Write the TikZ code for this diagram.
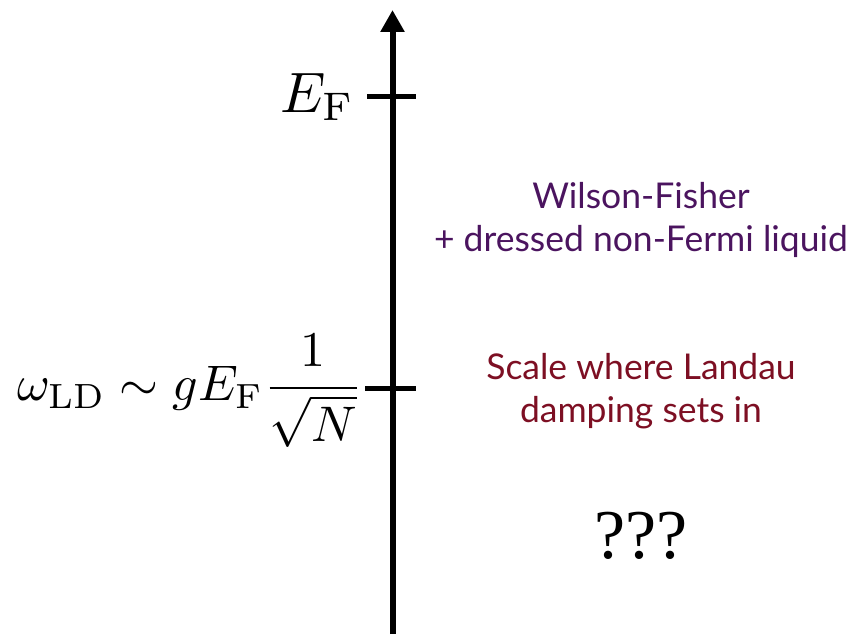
\documentclass[tikz,border=0pt]{standalone}
\usepackage{fontspec}
\setsansfont{Lato}
\newfontfamily\qfont{Liberation Serif}
\usetikzlibrary{arrows.meta}
\definecolor{wfpurple}{RGB}{75,20,95}
\definecolor{ldred}{RGB}{125,15,35}
\tikzset{
  axisline/.style={line width=6pt,-{Triangle[width=23pt,length=22pt]}},
  tickline/.style={line width=5pt},
  mathlabel/.style={inner sep=0pt,font=\fontsize{10}{12}\selectfont},
  label/.style={align=center,inner sep=0pt,font=\sffamily\fontsize{35.5}{43}\selectfont},
}
\begin{document}
\begin{tikzpicture}[x=1pt,y=-1pt]
\useasboundingbox (0,0) rectangle (853,634);
\coordinate (bot) at (392.5,634);
\coordinate (top) at (392.5,10);
\draw[axisline] (bot) -- (top);
\coordinate (t1l) at (367,96);
\coordinate (t1r) at (416,96);
\coordinate (t2l) at (365,388);
\coordinate (t2r) at (416,388);
\draw[tickline] (t1l) -- (t1r);
\draw[tickline] (t2l) -- (t2r);
\node[mathlabel,anchor=base east] (ef) at (355,112) {\scalebox{5.7}{$E_{\mathrm{F}}$}};
\node[mathlabel,anchor=base east] (ld) at (363,400.5) {\scalebox{5.0}{$\displaystyle\omega_{\mathrm{LD}}\sim gE_{\mathrm{F}}\frac{1}{\sqrt{N}}$}};
\node[label,text=wfpurple] (wf) at (641,220) {Wilson-Fisher\\+ dressed non-Fermi liquid};
\node[label,text=ldred] (sc) at (641,391) {Scale where Landau\\damping sets in};
\node[inner sep=0pt,font=\qfont\fontsize{70}{80}\selectfont] (qq) at (641,536) {???};
\end{tikzpicture}
\end{document}
